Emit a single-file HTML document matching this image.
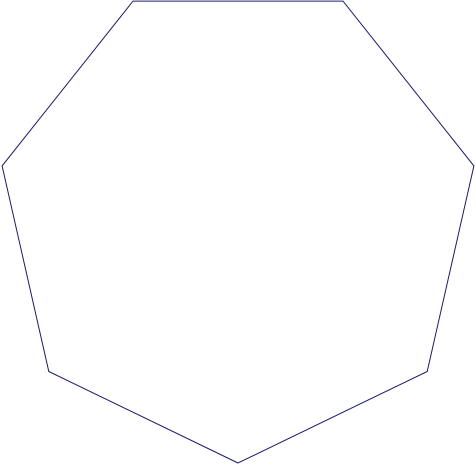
<!DOCTYPE html>
<html><head><meta charset="utf-8">
<style>html,body{margin:0;padding:0;background:#fff;}svg{display:block;}</style>
</head><body>
<svg id="chart" width="476" height="464" viewBox="0 0 476 464" xmlns="http://www.w3.org/2000/svg"></svg>
<script>
const categories = ["A","B","C","D","E","F","G"];
const seriesValues = [1,1,1,1,1,1,1];
const maxValue = 1;
const svg = document.getElementById('chart');
const cx = 238, cy = 220, Rx = 242, Ry = 243;
function rScale(v){ return v / maxValue; }
function angle(i){ return Math.PI/2 + i * 2*Math.PI/categories.length; }
const pts = seriesValues.map((v,i)=>{
  const r = rScale(v), a = angle(i);
  return [cx + r*Rx*Math.cos(a), cy + r*Ry*Math.sin(a)];
});
const poly = document.createElementNS('http://www.w3.org/2000/svg','polygon');


poly.setAttribute('points', pts.map(p=>p[0].toFixed(1)+','+p[1].toFixed(1)).join(' '));
poly.setAttribute('fill', 'none');
poly.setAttribute('stroke', '#1a1a6e');
poly.setAttribute('stroke-width', '1');
svg.appendChild(poly);
</script>
</body></html>
